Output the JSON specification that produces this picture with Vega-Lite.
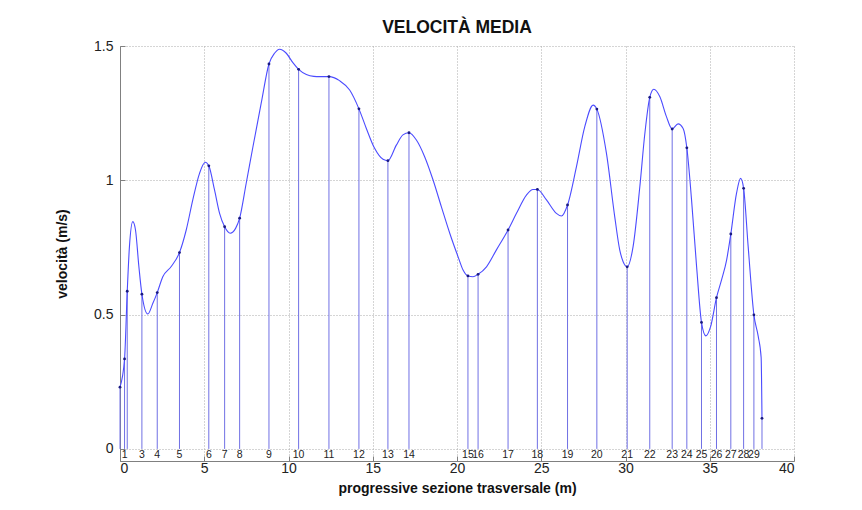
{
  "$schema": "https://vega.github.io/schema/vega-lite/v6.json",
  "autosize": {"type": "none"},
  "padding": {"left": 120, "top": 46, "right": 68, "bottom": 49},
  "width": 674,
  "height": 415,
  "background": "white",
  "title": {"text": "VELOCITÀ MEDIA", "fontSize": 17.5, "font": "Liberation Sans", "fontWeight": "bold", "color": "#111", "offset": 3, "anchor": "middle"},
  "config": {
    "view": {"stroke": null},
    "axis": {
      "labelFont": "Liberation Sans", "labelFontSize": 13, "labelColor": "#222",
      "titleFont": "Liberation Sans", "titleFontWeight": "bold", "titleColor": "#111",
      "domainColor": "#808080", "tickColor": "#808080", "tickSize": -5,
      "gridColor": "#aaa", "gridDash": [1, 2], "gridWidth": 1
    }
  },
  "datasets": {
    "stations": [
      {"x": 0, "v": 0.23, "label": ""},
      {"x": 0.27, "v": 0.335, "label": "1"},
      {"x": 0.43, "v": 0.587, "label": ""},
      {"x": 1.30, "v": 0.576, "label": "3"},
      {"x": 2.21, "v": 0.582, "label": "4"},
      {"x": 3.53, "v": 0.731, "label": "5"},
      {"x": 5.27, "v": 1.054, "label": "6"},
      {"x": 6.21, "v": 0.827, "label": "7"},
      {"x": 7.10, "v": 0.859, "label": "8"},
      {"x": 8.84, "v": 1.433, "label": "9"},
      {"x": 10.60, "v": 1.413, "label": "10"},
      {"x": 12.40, "v": 1.386, "label": "11"},
      {"x": 14.18, "v": 1.266, "label": "12"},
      {"x": 15.90, "v": 1.073, "label": "13"},
      {"x": 17.15, "v": 1.177, "label": "14"},
      {"x": 20.65, "v": 0.644, "label": "15"},
      {"x": 21.25, "v": 0.650, "label": "16"},
      {"x": 23.03, "v": 0.815, "label": "17"},
      {"x": 24.77, "v": 0.966, "label": "18"},
      {"x": 26.56, "v": 0.908, "label": "19"},
      {"x": 28.30, "v": 1.265, "label": "20"},
      {"x": 30.10, "v": 0.678, "label": "21"},
      {"x": 31.44, "v": 1.309, "label": "22"},
      {"x": 32.77, "v": 1.191, "label": "23"},
      {"x": 33.64, "v": 1.121, "label": "24"},
      {"x": 34.51, "v": 0.471, "label": "25"},
      {"x": 35.40, "v": 0.563, "label": "26"},
      {"x": 36.25, "v": 0.800, "label": "27"},
      {"x": 37.01, "v": 0.970, "label": "28"},
      {"x": 37.62, "v": 0.499, "label": "29"},
      {"x": 38.10, "v": 0.114, "label": ""}
    ],
    "curve": [
      {"x": 0, "v": 0.23}, {"x": 0.27, "v": 0.335}, {"x": 0.43, "v": 0.587}, {"x": 0.56, "v": 0.753},
      {"x": 0.76, "v": 0.846}, {"x": 0.92, "v": 0.815}, {"x": 1.12, "v": 0.679}, {"x": 1.30, "v": 0.576},
      {"x": 1.65, "v": 0.502}, {"x": 1.95, "v": 0.542}, {"x": 2.21, "v": 0.582}, {"x": 2.54, "v": 0.641},
      {"x": 3.04, "v": 0.679}, {"x": 3.53, "v": 0.731}, {"x": 3.93, "v": 0.815}, {"x": 4.32, "v": 0.927},
      {"x": 4.72, "v": 1.026}, {"x": 5.06, "v": 1.067}, {"x": 5.27, "v": 1.054}, {"x": 5.61, "v": 0.964},
      {"x": 5.91, "v": 0.877}, {"x": 6.21, "v": 0.827}, {"x": 6.54, "v": 0.803}, {"x": 6.86, "v": 0.821},
      {"x": 7.10, "v": 0.859}, {"x": 7.49, "v": 0.989}, {"x": 7.89, "v": 1.125}, {"x": 8.38, "v": 1.287},
      {"x": 8.84, "v": 1.433}, {"x": 9.17, "v": 1.473}, {"x": 9.47, "v": 1.488}, {"x": 9.87, "v": 1.473},
      {"x": 10.26, "v": 1.438}, {"x": 10.60, "v": 1.413}, {"x": 11.06, "v": 1.394}, {"x": 11.50, "v": 1.387},
      {"x": 11.85, "v": 1.386}, {"x": 12.40, "v": 1.386}, {"x": 13.03, "v": 1.371}, {"x": 13.63, "v": 1.336},
      {"x": 14.18, "v": 1.266}, {"x": 14.62, "v": 1.193}, {"x": 15.11, "v": 1.119}, {"x": 15.61, "v": 1.078},
      {"x": 15.90, "v": 1.073}, {"x": 16.40, "v": 1.131}, {"x": 16.79, "v": 1.169}, {"x": 17.15, "v": 1.177},
      {"x": 17.59, "v": 1.150}, {"x": 18.08, "v": 1.088}, {"x": 18.58, "v": 1.001}, {"x": 19.07, "v": 0.902},
      {"x": 19.57, "v": 0.803}, {"x": 20.06, "v": 0.716}, {"x": 20.36, "v": 0.666}, {"x": 20.65, "v": 0.644},
      {"x": 20.95, "v": 0.641}, {"x": 21.25, "v": 0.650}, {"x": 21.75, "v": 0.678}, {"x": 22.34, "v": 0.741},
      {"x": 23.03, "v": 0.815}, {"x": 23.53, "v": 0.877}, {"x": 24.12, "v": 0.945}, {"x": 24.51, "v": 0.966},
      {"x": 24.77, "v": 0.966}, {"x": 25.31, "v": 0.927}, {"x": 25.90, "v": 0.877}, {"x": 26.20, "v": 0.867},
      {"x": 26.56, "v": 0.908}, {"x": 27.09, "v": 1.051}, {"x": 27.58, "v": 1.199}, {"x": 28.08, "v": 1.280},
      {"x": 28.30, "v": 1.265}, {"x": 28.87, "v": 1.100}, {"x": 29.36, "v": 0.865}, {"x": 29.66, "v": 0.740},
      {"x": 29.86, "v": 0.697}, {"x": 30.10, "v": 0.678}, {"x": 30.45, "v": 0.753}, {"x": 30.85, "v": 0.976},
      {"x": 31.15, "v": 1.175}, {"x": 31.44, "v": 1.309}, {"x": 31.68, "v": 1.339}, {"x": 32.04, "v": 1.311},
      {"x": 32.43, "v": 1.237}, {"x": 32.77, "v": 1.191}, {"x": 33.12, "v": 1.210}, {"x": 33.42, "v": 1.193},
      {"x": 33.64, "v": 1.121}, {"x": 33.92, "v": 0.927}, {"x": 34.22, "v": 0.678}, {"x": 34.51, "v": 0.471},
      {"x": 34.77, "v": 0.421}, {"x": 35.05, "v": 0.455}, {"x": 35.40, "v": 0.563}, {"x": 35.70, "v": 0.629},
      {"x": 36.00, "v": 0.703}, {"x": 36.25, "v": 0.800}, {"x": 36.59, "v": 0.952}, {"x": 36.83, "v": 1.007},
      {"x": 37.01, "v": 0.970}, {"x": 37.28, "v": 0.753}, {"x": 37.62, "v": 0.499}, {"x": 37.88, "v": 0.418},
      {"x": 38.05, "v": 0.340}, {"x": 38.10, "v": 0.114}
    ]
  },
  "layer": [
    {
      "data": {"name": "stations"},
      "mark": {"type": "rule", "color": "#7070e4", "strokeWidth": 1},
      "encoding": {
        "x": {"field": "x", "type": "quantitative",
              "scale": {"domain": [0, 40], "nice": false, "zero": false},
              "axis": {"values": [0, 5, 10, 15, 20, 25, 30, 35, 40], "title": "progressive sezione trasversale (m)",
                       "titleFontSize": 14, "labelPadding": 5, "titlePadding": 6, "labelFontSize": 14}},
        "y": {"field": "v", "type": "quantitative",
              "scale": {"domain": [-0.045, 1.5], "nice": false, "zero": false},
              "axis": {"values": [0, 0.5, 1, 1.5], "format": "~g", "title": "velocità (m/s)", "titleFontSize": 14,
                       "labelPadding": 12, "titlePadding": 24, "labelFontSize": 14}},
        "y2": {"datum": 0}
      }
    },
    {
      "data": {"name": "curve"},
      "mark": {"type": "line", "interpolate": "monotone", "color": "#4b4bff", "strokeWidth": 1.1},
      "encoding": {
        "x": {"field": "x", "type": "quantitative"},
        "y": {"field": "v", "type": "quantitative"}
      }
    },
    {
      "data": {"name": "stations"},
      "mark": {"type": "point", "filled": true, "size": 8, "color": "#1a1a80", "opacity": 1},
      "encoding": {
        "x": {"field": "x", "type": "quantitative"},
        "y": {"field": "v", "type": "quantitative"}
      }
    },
    {
      "data": {"name": "stations"},
      "mark": {"type": "text", "font": "Liberation Sans", "fontSize": 10.5, "color": "#222", "baseline": "middle", "align": "center"},
      "encoding": {
        "x": {"field": "x", "type": "quantitative"},
        "y": {"datum": -0.021},
        "text": {"field": "label"}
      }
    }
  ]
}
